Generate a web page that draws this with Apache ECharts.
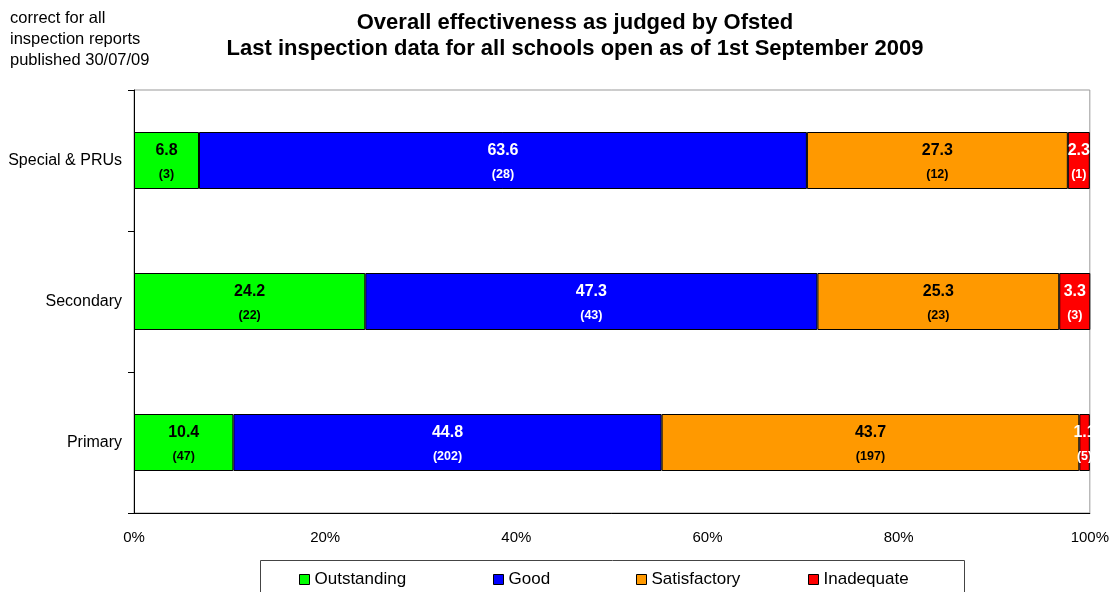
<!DOCTYPE html>
<html>
<head>
<meta charset="utf-8">
<script src="https://cdn.jsdelivr.net/npm/echarts@6/dist/echarts.min.js"></script>
<style>html,body{margin:0;padding:0;background:#fff}#c{width:1112px;height:592px}</style>
</head>
<body>
<div id="c"></div>
<script>
const categories = ['Primary', 'Secondary', 'Special & PRUs'];
const seriesNames = ['Outstanding', 'Good', 'Satisfactory', 'Inadequate'];
const outstandingPct = [10.4, 24.2, 6.8];
const goodPct = [44.8, 47.3, 63.6];
const satisfactoryPct = [43.7, 25.3, 27.3];
const inadequatePct = [1.1, 3.3, 2.3];
const outstandingCount = [47, 22, 3];
const goodCount = [202, 43, 28];
const satisfactoryCount = [197, 23, 12];
const inadequateCount = [5, 3, 1];
const xTickLabels = ['0%', '20%', '40%', '60%', '80%', '100%'];

const FONT = '"Liberation Sans", Arial, sans-serif';
const colors = ['#00FF00', '#0000FF', '#FF9900', '#FF0000'];
const labelColors = ['#000', '#fff', '#000', '#fff'];
const pcts = [outstandingPct, goodPct, satisfactoryPct, inadequatePct];
const counts = [outstandingCount, goodCount, satisfactoryCount, inadequateCount];

const series = seriesNames.map((name, i) => ({
  name: name,
  type: 'bar',
  stack: 'total',
  barWidth: 57,
  data: pcts[i],
  itemStyle: { color: colors[i], borderColor: '#000', borderWidth: 1 },
  label: {
    show: true,
    position: 'inside',
    fontFamily: FONT,
    formatter: p => '{v|' + pcts[i][p.dataIndex].toFixed(1) + '}\n{c|(' + counts[i][p.dataIndex] + ')}',
    rich: {
      v: { fontSize: 16, fontWeight: 'bold', color: labelColors[i], lineHeight: 28, fontFamily: FONT },
      c: { fontSize: 12.5, fontWeight: 'bold', color: labelColors[i], lineHeight: 20, fontFamily: FONT }
    }
  },
  emphasis: { disabled: true },
  animation: false
}));

const legendX = [299, 493, 636, 808];
const legends = seriesNames.map((name, i) => ({
  data: [{ name: name, icon: 'rect' }],
  left: legendX[i],
  top: 571,
  orient: 'horizontal',
  itemWidth: 10,
  itemHeight: 10,
  itemGap: 0,
  padding: 0,
  textStyle: { fontFamily: FONT, fontSize: 17, color: '#000', padding: [0, 0, 0, 0] },
  itemStyle: { borderColor: '#000', borderWidth: 1 },
  selectedMode: false
}));

const chart = echarts.init(document.getElementById('c'), null, { renderer: 'canvas' });
chart.setOption({
  backgroundColor: '#fff',
  animation: false,
  title: [{
    text: 'Overall effectiveness as judged by Ofsted\nLast inspection data for all schools open as of 1st September 2009',
    left: 570,
    textAlign: 'center',
    top: 5,
    textStyle: { fontFamily: FONT, fontSize: 22, fontWeight: 'bold', color: '#000', lineHeight: 26 }
  }, {
    text: 'correct for all\ninspection reports\npublished 30/07/09',
    left: 5,
    top: 3,
    textStyle: { fontFamily: FONT, fontSize: 16.5, fontWeight: 'normal', color: '#000', lineHeight: 21 }
  }],
  legend: legends,
  graphic: [{
    type: 'rect',
    shape: { x: 260.5, y: 560.5, width: 704, height: 40 },
    style: { fill: 'none', stroke: '#444', lineWidth: 1 },
    silent: true
  }],
  grid: { left: 134, right: 21, top: 90, bottom: 79, show: true, borderColor: '#999', borderWidth: 1, backgroundColor: 'transparent' },
  xAxis: {
    type: 'value',
    min: 0,
    max: 100,
    interval: 20,
    axisLine: { show: true, lineStyle: { color: '#000', width: 1 } },
    axisTick: { show: false },
    splitLine: { show: false },
    axisLabel: {
      margin: 17,
      fontFamily: FONT,
      fontSize: 15,
      color: '#000',
      formatter: v => xTickLabels[Math.round(v / 20)]
    }
  },
  yAxis: {
    type: 'category',
    data: categories,
    axisLine: { show: true, lineStyle: { color: '#000', width: 1 } },
    axisTick: { show: true, length: 6, lineStyle: { color: '#000' } },
    axisLabel: { margin: 12, fontFamily: FONT, fontSize: 16, color: '#000' }
  },
  series: series
});
</script>
</body>
</html>
